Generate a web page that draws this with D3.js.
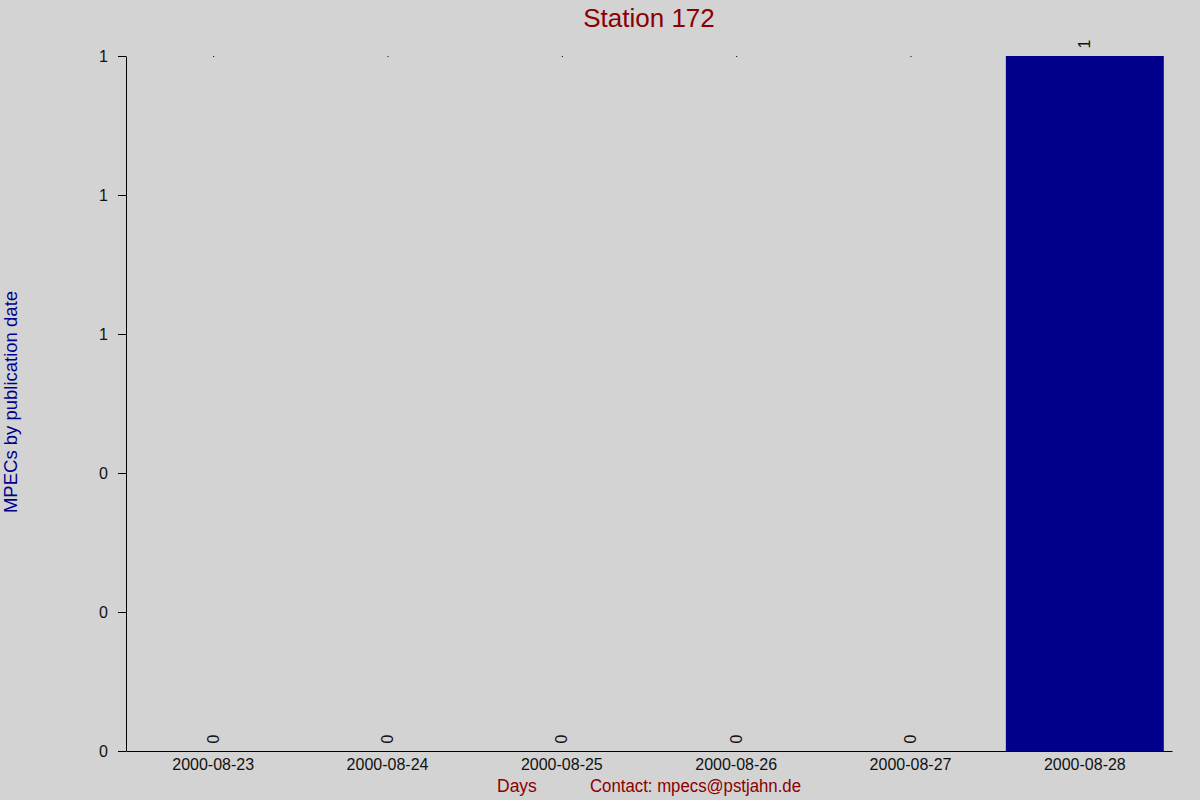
<!DOCTYPE html>
<html>
<head>
<meta charset="utf-8">
<script src="https://cdn.jsdelivr.net/npm/d3@7"></script>
<style>
  html, body { margin: 0; padding: 0; background: #d3d3d3; }
  svg { display: block; font-family: "Liberation Sans", Arial, sans-serif; }
</style>
</head>
<body>
<div id="chart"></div>
<script>
// data
const days = ["2000-08-23", "2000-08-24", "2000-08-25", "2000-08-26", "2000-08-27", "2000-08-28"];
const counts = [0, 0, 0, 0, 0, 1];
const yTicks = [0, 0.2, 0.4, 0.6, 0.8, 1];

const width = 1200, height = 800;
const margin = {top: 56, right: 28, bottom: 49, left: 126};

const svg = d3.select("#chart").append("svg")
    .attr("width", width)
    .attr("height", height);

svg.append("rect")
    .attr("width", width)
    .attr("height", height)
    .attr("fill", "#d3d3d3");

const x = d3.scaleBand()
    .domain(days)
    .range([margin.left, width - margin.right])
    .paddingInner(0.094)
    .paddingOuter(0.047);

const y = d3.scaleLinear()
    .domain([0, 1])
    .range([height - margin.bottom, margin.top]);

const fmt = d3.format(".0f");

// bars
svg.append("g")
    .attr("fill", "#00008b")
  .selectAll("rect")
  .data(counts)
  .join("rect")
    .attr("x", (d, i) => x(days[i]))
    .attr("y", d => y(d))
    .attr("width", x.bandwidth())
    .attr("height", d => y(0) - y(d));

// little specks at the top of the empty columns
svg.append("g")
    .attr("fill", "#000")
  .selectAll("rect")
  .data(counts.map((d, i) => ({d, i})).filter(o => o.d === 0))
  .join("rect")
    .attr("x", o => x(days[o.i]) + x.bandwidth() / 2)
    .attr("y", y(1))
    .attr("width", 1)
    .attr("height", 1);

// value labels, rotated
svg.append("g")
    .attr("font-size", 16)
    .attr("fill", "#111")
  .selectAll("text")
  .data(counts)
  .join("text")
    .attr("transform", (d, i) => `translate(${x(days[i]) + x.bandwidth() / 2},${y(d) - 7.5}) rotate(-90)`)
    .attr("dy", "0.35em")
    .text(d => fmt(d));

// y axis
const yAxis = svg.append("g")
    .attr("transform", `translate(${margin.left},0)`)
    .call(d3.axisLeft(y).tickValues(yTicks).tickFormat(fmt).tickSize(8).tickSizeOuter(0).tickPadding(10));
yAxis.select(".domain").attr("stroke", "#000");
yAxis.selectAll(".tick line").attr("stroke", "#000");
yAxis.selectAll(".tick text").attr("font-size", 16).attr("fill", "#111").attr("font-family", null);

// x axis
const xAxis = svg.append("g")
    .attr("transform", `translate(0,${y(0)})`)
    .call(d3.axisBottom(x).tickSize(0).tickSizeOuter(0).tickPadding(8));
xAxis.select(".domain").attr("stroke", "#000");
xAxis.selectAll(".tick text").attr("font-size", 16).attr("fill", "#111").attr("font-family", null).attr("dy", "0.71em");

// titles
svg.append("text")
    .attr("x", 649)
    .attr("y", 27)
    .attr("text-anchor", "middle")
    .attr("font-size", 26)
    .attr("fill", "#8b0000")
    .text("Station 172");

svg.append("text")
    .attr("transform", `translate(17,402) rotate(-90)`)
    .attr("text-anchor", "middle")
    .attr("font-size", 18.5)
    .attr("fill", "#00008b")
    .text("MPECs by publication date");

svg.append("text")
    .attr("x", 497)
    .attr("y", 792)
    .attr("font-size", 17.5)
    .attr("fill", "#8b0000")
    .text("Days");

svg.append("text")
    .attr("x", 590)
    .attr("y", 792)
    .attr("font-size", 17.5)
    .attr("fill", "#8b0000")
    .attr("textLength", 211)
    .attr("lengthAdjust", "spacingAndGlyphs")
    .text("Contact: mpecs@pstjahn.de");
</script>
</body>
</html>
